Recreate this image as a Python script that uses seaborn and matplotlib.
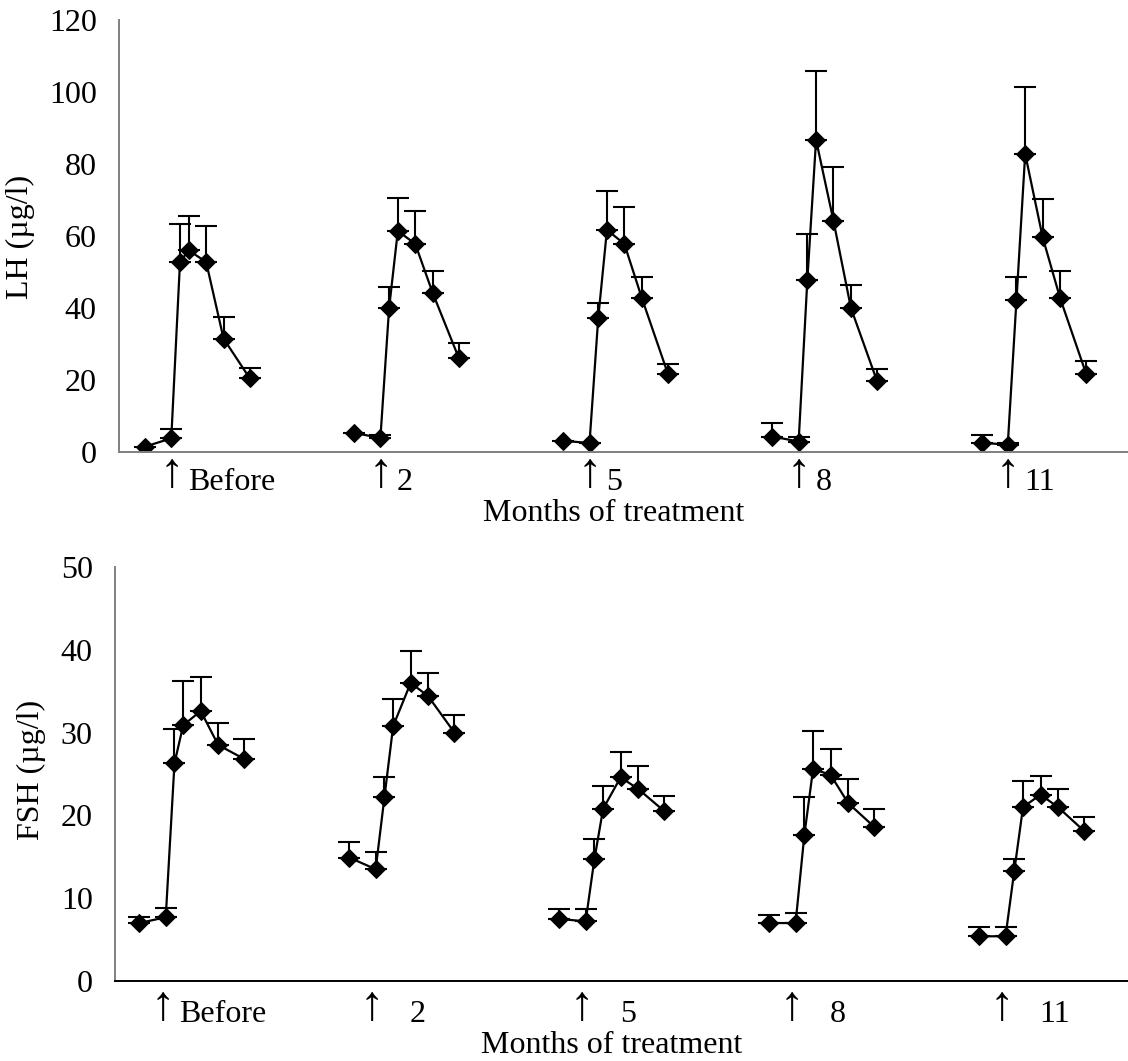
import numpy as np
import pandas as pd
import matplotlib
matplotlib.use("Agg")
import matplotlib.pyplot as plt
import seaborn as sns

# sampling times (min) relative to the injection, and treatment months
sample_times = [-30, 0, 10, 20, 40, 60, 90]
months = ['Before', '2', '5', '8', '11']

lh_mean = {
    'Before': [1.5, 3.8, 52.8, 56.0, 52.8, 31.5, 20.5],
    '2': [5.3, 3.9, 40.0, 61.4, 57.8, 44.2, 26.1],
    '5': [3.1, 2.5, 37.2, 61.7, 57.8, 42.8, 21.7],
    '8': [4.3, 2.9, 47.8, 86.7, 64.2, 40.0, 19.7],
    '11': [2.6, 2.0, 42.2, 82.8, 59.7, 42.8, 21.7],
}
# upper error (SEM); nan where no bar is visible
lh_sem = {
    'Before': [np.nan, 2.6, 10.5, 9.5, 10.0, 6.0, 2.8],
    '2': [np.nan, 0.8, 5.8, 9.1, 9.2, 6.1, 4.2],
    '5': [np.nan, np.nan, 4.2, 10.8, 10.2, 5.8, 2.7],
    '8': [3.7, 1.3, 12.7, 19.2, 15.0, 6.4, 3.3],
    '11': [2.1, 0.6, 6.4, 18.6, 10.6, 7.5, 3.6],
}
fsh_mean = {
    'Before': [7.0, 7.7, 26.3, 30.9, 32.6, 28.5, 26.8],
    '2': [14.9, 13.5, 22.2, 30.8, 36.0, 34.4, 30.0],
    '5': [7.5, 7.2, 14.7, 20.8, 24.6, 23.2, 20.5],
    '8': [7.0, 7.0, 17.6, 25.6, 24.9, 21.5, 18.6],
    '11': [5.4, 5.4, 13.3, 21.0, 22.5, 21.0, 18.1],
}
fsh_sem = {
    'Before': [0.7, 1.1, 4.1, 5.3, 4.1, 2.7, 2.4],
    '2': [1.9, 2.1, 2.4, 3.3, 3.9, 2.8, 2.1],
    '5': [1.2, 1.5, 2.4, 2.7, 3.1, 2.8, 1.8],
    '8': [1.0, 1.2, 4.6, 4.6, 3.1, 2.9, 2.2],
    '11': [1.1, 1.1, 1.4, 3.2, 2.3, 2.2, 1.7],
}

GAP = 240  # spacing between treatment blocks on the time axis


def build(means, sems):
    rows = []
    for i, m in enumerate(months):
        for t, v, e in zip(sample_times, means[m], sems[m]):
            rows.append({'month': m, 'x': i * GAP + t, 'value': v, 'sem': e})
    return pd.DataFrame(rows)


def draw(ax, df, ymax, ystep, xlim, label_gap, arrow_shift, arrow_y, base_y, title_y, bottom_black):
    sns.lineplot(data=df, x='x', y='value', units='month', estimator=None,
                 color='black', marker='D', markersize=9, linewidth=1.6,
                 markeredgecolor='black', ax=ax)
    ax.errorbar(df['x'], df['value'], yerr=[np.zeros(len(df)), df['sem']],
                fmt='none', ecolor='black', elinewidth=1.5, capsize=8, capthick=1.5)
    ax.set_xlim(*xlim)
    ax.set_ylim(0, ymax)
    ax.set_yticks(np.arange(0, ymax + 1, ystep))
    ax.set_xticks([])
    ax.set_xlabel('')
    ax.set_ylabel('')
    for s in ['top', 'right']:
        ax.spines[s].set_visible(False)
    ax.spines['left'].set_color('#808080')
    ax.spines['left'].set_linewidth(1.4)
    ax.spines['bottom'].set_color('black' if bottom_black else '#808080')
    ax.spines['bottom'].set_linewidth(1.4)
    ax.tick_params(axis='y', direction='out', length=7, width=1.2, color='#808080',
                   pad=9, labelsize=23, labelcolor='black')
    for i, m in enumerate(months):
        x0 = i * GAP + arrow_shift
        ax.annotate('\u2191', xy=(x0, 0), xycoords=('data', 'axes fraction'),
                    xytext=(0, arrow_y), textcoords='offset points',
                    ha='center', va='baseline', fontsize=35, color='black')
        gap = label_gap[0] if m == 'Before' else label_gap[1]
        ax.annotate(m, xy=(x0, 0), xycoords=('data', 'axes fraction'),
                    xytext=(gap, base_y), textcoords='offset points',
                    ha='left', va='baseline', fontsize=23, color='black')
    ax.annotate('Months of treatment', xy=(0.49, 0), xycoords='axes fraction',
                xytext=(0, title_y), textcoords='offset points',
                ha='center', va='baseline', fontsize=23, color='black')
    return ax


sns.set_style('white')
plt.rcParams['font.family'] = ['Liberation Serif', 'DejaVu Serif']
plt.rcParams['text.color'] = 'black'

fig = plt.figure(figsize=(11.28, 10.61), dpi=100)
ax1 = fig.add_axes([119 / 1128, 1 - 452 / 1061, 1009 / 1128, 432 / 1061])
ax2 = fig.add_axes([115 / 1128, 1 - 981 / 1061, 1013 / 1128, 414 / 1061])

draw(ax1, build(lh_mean, lh_sem), 120, 20, (-60, 1098), (12, 12), 0, -25.5, -27.5, -49.5, False)
draw(ax2, build(fsh_mean, fsh_sem), 50, 10, (-58, 1100), (12, 27), -4, -28, -29.5, -52, True)

fig.text(20 / 1128, 1 - 237 / 1061, 'LH (\u00b5g/l)', rotation=90, ha='center', va='center', fontsize=23)
fig.text(31 / 1128, 1 - 770 / 1061, 'FSH (\u00b5g/l)', rotation=90, ha='center', va='center', fontsize=23)

fig.savefig('out.png', dpi=100)
